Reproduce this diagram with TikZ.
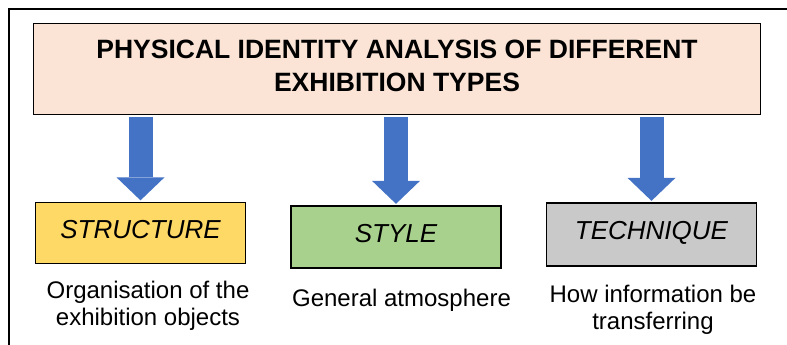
\documentclass[tikz,border=0pt]{standalone}
\usepackage{fontspec}
\setmainfont{Liberation Sans}
\usetikzlibrary{arrows.meta, positioning}
\definecolor{titlepink}{RGB}{251,228,214}
\definecolor{structyellow}{RGB}{255,217,102}
\definecolor{stylegreen}{RGB}{169,209,142}
\definecolor{techgray}{RGB}{201,201,201}
\definecolor{arrowblue}{RGB}{68,114,196}
\tikzset{typebox/.style={rectangle, draw=black, line width=1.3pt, minimum width=210pt, minimum height=61pt, inner sep=0pt, font=\fontsize{26}{30}\selectfont\itshape, text height=18.6pt, text depth=8pt},
descnode/.style={align=center, inner sep=0pt, font=\fontsize{24}{27.4}\selectfont},
bluearrow/.style={draw=arrowblue, line width=24pt, shorten <=1.5pt, shorten >=1.5pt, -{Triangle[width=48pt, length=23pt, line width=0pt]}}}

\begin{document}
\begin{tikzpicture}[x=1pt, y=1pt]
    % Canvas and frame
    \useasboundingbox (0pt, 0pt) rectangle (787pt, 345pt);
    \draw[line width=2pt] (9pt, 0pt) -- (9pt, 336pt) -- (787pt, 336pt);
    % Title
    \node[draw=black, line width=1.3pt, fill=titlepink, minimum width=727pt, minimum height=91pt, align=center, text depth=7pt, font=\fontsize{26.5}{33}\selectfont\bfseries] (title) at (397pt, 276pt) {PHYSICAL IDENTITY ANALYSIS OF DIFFERENT\\EXHIBITION TYPES};
    % Type boxes
    \node[typebox, fill=structyellow] (structure) at (140.5pt, 112pt) {STRUCTURE};
    \node[typebox, fill=stylegreen, minimum height=62pt] (style) at (396pt, 108pt) {STYLE};
    \node[typebox, fill=techgray, minimum height=63pt] (technique) at (651.5pt, 110.5pt) {TECHNIQUE};
    % Arrows
    \foreach \typenode in {structure, style, technique} {
        \draw[bluearrow] (title.south -| \typenode.north) -- (\typenode.north);
    }
    % Descriptions
    \node[descnode, anchor=north] (structuredesc) at (148pt, 64pt) {Organisation of the\\exhibition objects};
    \node[descnode, anchor=north] (styledesc) at (401.5pt, 56.5pt) {General atmosphere};
    \node[descnode, anchor=north] (techniquedesc) at (653pt, 60pt) {How information be\\transferring};
\end{tikzpicture}
\end{document}
